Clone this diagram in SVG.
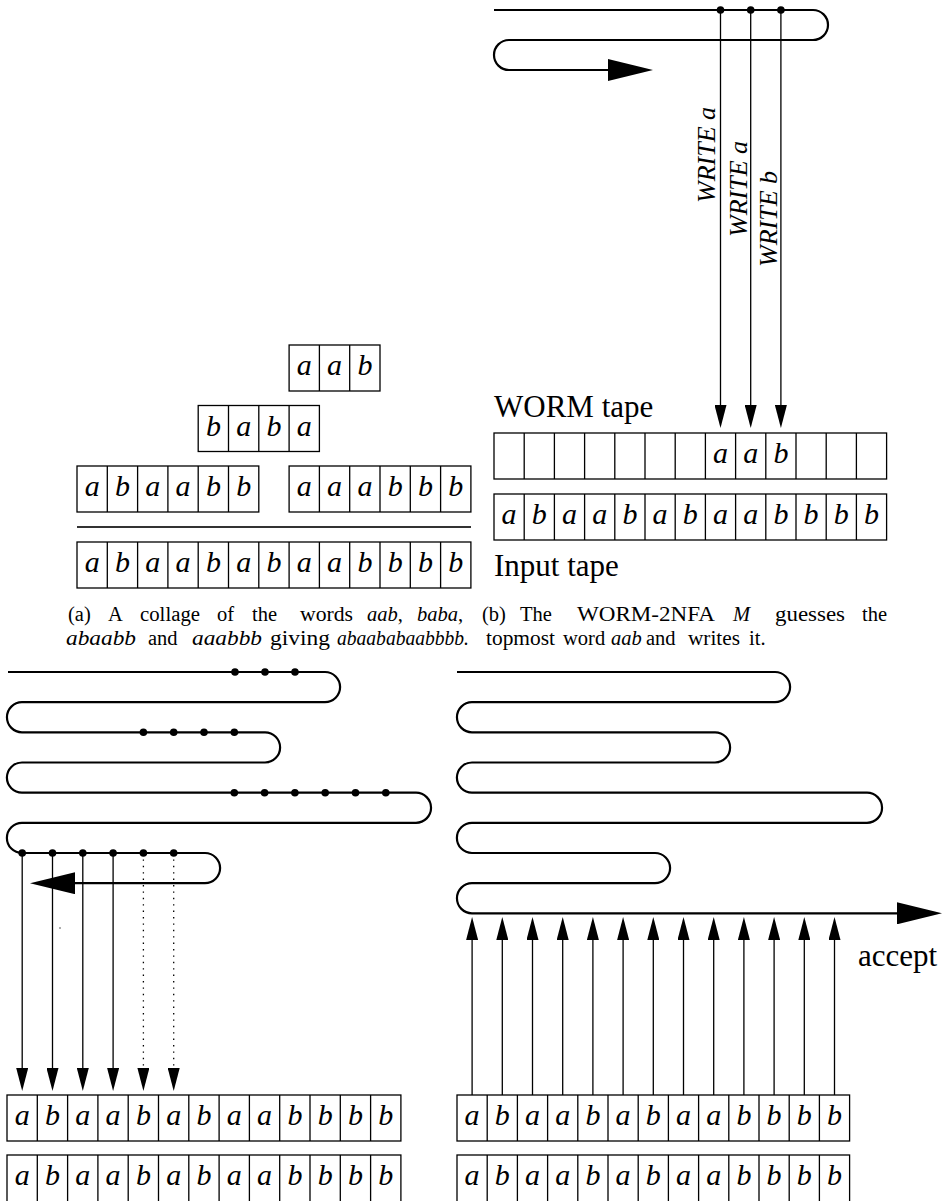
<svg xmlns="http://www.w3.org/2000/svg" width="945" height="1201" viewBox="0 0 945 1201">
<style>
.bg{fill:#fff}
.snake{fill:none;stroke:#000;stroke-width:2.2}
.tape{fill:#fff;stroke:#000;stroke-width:1.3}
.sep{fill:none;stroke:#000;stroke-width:1.3}
.conn{fill:none;stroke:#000;stroke-width:1.3}
.dotted{stroke-dasharray:1.4 5}
.dot{fill:#000}
.cell{font-family:"Liberation Serif",serif;font-style:italic;font-size:30px;text-anchor:middle;fill:#000}
.lbl{font-family:"Liberation Serif",serif;font-size:31px;fill:#000}
.wr{font-family:"Liberation Serif",serif;font-style:italic;font-size:26px;fill:#000}
.cap{font-family:"Liberation Serif",serif;font-size:20.5px;fill:#000}
.it{font-style:italic}
</style>
<defs>
<marker id="bigArrow" viewBox="0 0 45 22" markerWidth="45" markerHeight="22" refX="10" refY="11" orient="auto" markerUnits="userSpaceOnUse"><path d="M0,0 L45,11 L0,22 z" fill="#000"/></marker>
<marker id="arr" viewBox="0 0 23 12" markerWidth="23" markerHeight="12" refX="5" refY="6" orient="auto" markerUnits="userSpaceOnUse"><path d="M0,0 L23,6 L0,12 z" fill="#000"/></marker>
</defs>
<rect class="bg" x="0" y="0" width="945" height="1201"/>

<!-- (a) collage -->
<g id="word-aab">
<rect class="tape" x="289.1" y="345" width="90.9" height="46"/>
<path class="sep" d="M319.4,345V391M349.7,345V391"/>
<text class="cell" x="304.3 334.6 364.9" y="375">aab</text>
</g>
<g id="word-baba">
<rect class="tape" x="198.2" y="405.5" width="121.2" height="46"/>
<path class="sep" d="M228.5,405.5V451.5M258.8,405.5V451.5M289.1,405.5V451.5"/>
<text class="cell" x="213.4 243.7 274 304.3" y="435.5">baba</text>
</g>
<g id="word-abaabb">
<rect class="tape" x="77" y="466" width="181.8" height="46"/>
<path class="sep" d="M107.3,466V512M137.6,466V512M167.9,466V512M198.2,466V512M228.5,466V512"/>
<text class="cell" x="92.2 122.5 152.8 183.1 213.4 243.7" y="496">abaabb</text>
</g>
<g id="word-aaabbb">
<rect class="tape" x="289.1" y="466" width="181.8" height="46"/>
<path class="sep" d="M319.4,466V512M349.7,466V512M380,466V512M410.3,466V512M440.6,466V512"/>
<text class="cell" x="304.3 334.6 364.9 395.2 425.5 455.8" y="496">aaabbb</text>
</g>
<g id="collage-rule">
<path d="M77,527H471" fill="none" stroke="#333" stroke-width="1.8"/>
</g>
<g id="word-result">
<rect class="tape" x="77" y="542" width="393.9" height="46"/>
<path class="sep" d="M107.3,542V588M137.6,542V588M167.9,542V588M198.2,542V588M228.5,542V588M258.8,542V588M289.1,542V588M319.4,542V588M349.7,542V588M380,542V588M410.3,542V588M440.6,542V588"/>
<text class="cell" x="92.2 122.5 152.8 183.1 213.4 243.7 274 304.3 334.6 364.9 395.2 425.5 455.8" y="572">abaababaabbbb</text>
</g>

<!-- (b) -->
<g id="snake-b">
<path class="snake" d="M494,10H813A15,15 0 0 1 813,40H509A15,15 0 0 0 509,70H618" marker-end="url(#bigArrow)"/>
</g>
<g id="worm-label"><text class="lbl" x="494" y="417">WORM tape</text></g>
<g id="worm-tape">
<rect class="tape" x="494" y="433" width="392.6" height="46"/>
<path class="sep" d="M524.2,433V479M554.4,433V479M584.6,433V479M614.8,433V479M645,433V479M675.2,433V479M705.4,433V479M735.6,433V479M765.8,433V479M796,433V479M826.2,433V479M856.4,433V479"/>
<text class="cell" x="720.5 750.7 780.9" y="463">aab</text>
</g>
<g id="input-tape">
<rect class="tape" x="494" y="494" width="392.6" height="46"/>
<path class="sep" d="M524.2,494V540M554.4,494V540M584.6,494V540M614.8,494V540M645,494V540M675.2,494V540M705.4,494V540M735.6,494V540M765.8,494V540M796,494V540M826.2,494V540M856.4,494V540"/>
<text class="cell" x="509.1 539.3 569.5 599.7 629.9 660.1 690.3 720.5 750.7 780.9 811.1 841.3 871.5" y="524">abaababaabbbb</text>
</g>
<g id="input-label"><text class="lbl" x="494" y="576">Input tape</text></g>
<g id="write-labels">
<text class="wr" transform="translate(715,203) rotate(-90)">WRITE a</text>
<text class="wr" transform="translate(747,237) rotate(-90)">WRITE a</text>
<text class="wr" transform="translate(777,267) rotate(-90)">WRITE b</text>
</g>

<!-- captions -->
<g id="caption-a">
<text class="cap" x="68" y="621">(a)</text>
<text class="cap" x="108" y="621">A</text>
<text class="cap" x="140" y="621" textLength="60" lengthAdjust="spacingAndGlyphs">collage</text>
<text class="cap" x="217" y="621">of</text>
<text class="cap" x="252" y="621">the</text>
<text class="cap" x="300" y="621" textLength="53" lengthAdjust="spacingAndGlyphs">words</text>
<text class="cap" x="367" y="621"><tspan class="it">aab</tspan>,</text>
<text class="cap" x="417" y="621"><tspan class="it">baba</tspan>,</text>
<text class="cap it" x="66" y="645" textLength="70" lengthAdjust="spacingAndGlyphs">abaabb</text>
<text class="cap" x="148" y="645">and</text>
<text class="cap it" x="192" y="645" textLength="70" lengthAdjust="spacingAndGlyphs">aaabbb</text>
<text class="cap" x="270" y="645" textLength="60" lengthAdjust="spacingAndGlyphs">giving</text>
<text class="cap it" x="337" y="645" textLength="132" lengthAdjust="spacingAndGlyphs">abaababaabbbb.</text>
</g>
<g id="caption-b">
<text class="cap" x="482" y="621">(b)</text>
<text class="cap" x="520" y="621">The</text>
<text class="cap" x="577" y="621" textLength="138" lengthAdjust="spacingAndGlyphs">WORM-2NFA</text>
<text class="cap it" x="733" y="621">M</text>
<text class="cap" x="775" y="621" textLength="70" lengthAdjust="spacingAndGlyphs">guesses</text>
<text class="cap" x="862" y="621">the</text>
<text class="cap" x="486" y="645" textLength="69" lengthAdjust="spacingAndGlyphs">topmost</text>
<text class="cap" x="563" y="645">word</text>
<text class="cap it" x="611" y="645">aab</text>
<text class="cap" x="646" y="645">and</text>
<text class="cap" x="688" y="645" textLength="52" lengthAdjust="spacingAndGlyphs">writes</text>
<text class="cap" x="749" y="645">it.</text>
</g>

<!-- (c) bottom left -->
<g id="snake-c">
<path class="snake" d="M8,672H325A15,15 0 0 1 325,702.2H22A15,15 0 0 0 22,732.3H265A15,15 0 0 1 265,762.5H22A15,15 0 0 0 22,792.7H416A15,15 0 0 1 416,822.8H22A15,15 0 0 0 22,853H205A15,15 0 0 1 205,883.2H65" marker-end="url(#bigArrow)"/>
</g>
<g id="tape-c1">
<rect class="tape" x="7" y="1095" width="393.9" height="46"/>
<path class="sep" d="M37.3,1095V1141M67.6,1095V1141M97.9,1095V1141M128.2,1095V1141M158.5,1095V1141M188.8,1095V1141M219.1,1095V1141M249.4,1095V1141M279.7,1095V1141M310,1095V1141M340.3,1095V1141M370.6,1095V1141"/>
<text class="cell" x="22.2 52.5 82.8 113.1 143.4 173.7 204 234.3 264.6 294.9 325.2 355.5 385.8" y="1125">abaababaabbbb</text>
</g>
<g id="tape-c2">
<rect class="tape" x="7" y="1155" width="393.9" height="47"/>
<path class="sep" d="M37.3,1155V1202M67.6,1155V1202M97.9,1155V1202M128.2,1155V1202M158.5,1155V1202M188.8,1155V1202M219.1,1155V1202M249.4,1155V1202M279.7,1155V1202M310,1155V1202M340.3,1155V1202M370.6,1155V1202"/>
<text class="cell" x="22.2 52.5 82.8 113.1 143.4 173.7 204 234.3 264.6 294.9 325.2 355.5 385.8" y="1185">abaababaabbbb</text>
</g>

<!-- (d) bottom right -->
<g id="snake-d">
<path class="snake" d="M457,672H775A15,15 0 0 1 775,702.2H472A15,15 0 0 0 472,732.3H715A15,15 0 0 1 715,762.5H472A15,15 0 0 0 472,792.7H867A15,15 0 0 1 867,822.8H472A15,15 0 0 0 472,853H655A15,15 0 0 1 655,883.2H472A15,15 0 0 0 472,913.3H907" marker-end="url(#bigArrow)"/>
</g>
<g id="accept-label"><text class="lbl" x="858" y="966">accept</text></g>
<g id="tape-d1">
<rect class="tape" x="457" y="1095" width="392.6" height="46"/>
<path class="sep" d="M487.2,1095V1141M517.4,1095V1141M547.6,1095V1141M577.8,1095V1141M608,1095V1141M638.2,1095V1141M668.4,1095V1141M698.6,1095V1141M728.8,1095V1141M759,1095V1141M789.2,1095V1141M819.4,1095V1141"/>
<text class="cell" x="472.1 502.3 532.5 562.7 592.9 623.1 653.3 683.5 713.7 743.9 774.1 804.3 834.5" y="1125">abaababaabbbb</text>
</g>
<g id="tape-d2">
<rect class="tape" x="457" y="1155" width="392.6" height="47"/>
<path class="sep" d="M487.2,1155V1202M517.4,1155V1202M547.6,1155V1202M577.8,1155V1202M608,1155V1202M638.2,1155V1202M668.4,1155V1202M698.6,1155V1202M728.8,1155V1202M759,1155V1202M789.2,1155V1202M819.4,1155V1202"/>
<text class="cell" x="472.1 502.3 532.5 562.7 592.9 623.1 653.3 683.5 713.7 743.9 774.1 804.3 834.5" y="1185">abaababaabbbb</text>
</g>

<!-- connectors -->
<g id="connectors">
<path class="conn" d="M720.5,10V410" marker-end="url(#arr)"/>
<path class="conn" d="M750.7,10V410" marker-end="url(#arr)"/>
<path class="conn" d="M780.9,10V410" marker-end="url(#arr)"/>
<path class="conn" d="M22.2,853V1073" marker-end="url(#arr)"/>
<path class="conn" d="M52.5,853V1073" marker-end="url(#arr)"/>
<path class="conn" d="M82.8,853V1073" marker-end="url(#arr)"/>
<path class="conn" d="M113.1,853V1073" marker-end="url(#arr)"/>
<path class="conn dotted" d="M143.4,853V1073" marker-end="url(#arr)"/>
<path class="conn dotted" d="M173.7,853V1073" marker-end="url(#arr)"/>
<path class="conn" d="M472.1,1095V935" marker-end="url(#arr)"/>
<path class="conn" d="M502.3,1095V935" marker-end="url(#arr)"/>
<path class="conn" d="M532.5,1095V935" marker-end="url(#arr)"/>
<path class="conn" d="M562.7,1095V935" marker-end="url(#arr)"/>
<path class="conn" d="M592.9,1095V935" marker-end="url(#arr)"/>
<path class="conn" d="M623.1,1095V935" marker-end="url(#arr)"/>
<path class="conn" d="M653.3,1095V935" marker-end="url(#arr)"/>
<path class="conn" d="M683.5,1095V935" marker-end="url(#arr)"/>
<path class="conn" d="M713.7,1095V935" marker-end="url(#arr)"/>
<path class="conn" d="M743.9,1095V935" marker-end="url(#arr)"/>
<path class="conn" d="M774.1,1095V935" marker-end="url(#arr)"/>
<path class="conn" d="M804.3,1095V935" marker-end="url(#arr)"/>
<path class="conn" d="M834.5,1095V935" marker-end="url(#arr)"/>
</g>

<!-- head-position dots -->
<g id="dots">
<circle class="dot" cx="720.5" cy="10" r="3.8"/><circle class="dot" cx="750.7" cy="10" r="3.8"/><circle class="dot" cx="780.9" cy="10" r="3.8"/>
<circle class="dot" cx="235" cy="672" r="3.8"/><circle class="dot" cx="265" cy="672" r="3.8"/><circle class="dot" cx="295" cy="672" r="3.8"/>
<circle class="dot" cx="143.4" cy="732.3" r="3.8"/><circle class="dot" cx="173.7" cy="732.3" r="3.8"/><circle class="dot" cx="204" cy="732.3" r="3.8"/><circle class="dot" cx="234.3" cy="732.3" r="3.8"/>
<circle class="dot" cx="234.3" cy="792.7" r="3.8"/><circle class="dot" cx="264.6" cy="792.7" r="3.8"/><circle class="dot" cx="294.9" cy="792.7" r="3.8"/><circle class="dot" cx="325.2" cy="792.7" r="3.8"/><circle class="dot" cx="355.5" cy="792.7" r="3.8"/><circle class="dot" cx="385.8" cy="792.7" r="3.8"/>
<circle class="dot" cx="22.2" cy="853" r="3.8"/><circle class="dot" cx="52.5" cy="853" r="3.8"/><circle class="dot" cx="82.8" cy="853" r="3.8"/><circle class="dot" cx="113.1" cy="853" r="3.8"/><circle class="dot" cx="143.4" cy="853" r="3.8"/><circle class="dot" cx="173.7" cy="853" r="3.8"/>
<circle cx="60" cy="928" r="0.8" fill="#444"/>
</g>
</svg>
